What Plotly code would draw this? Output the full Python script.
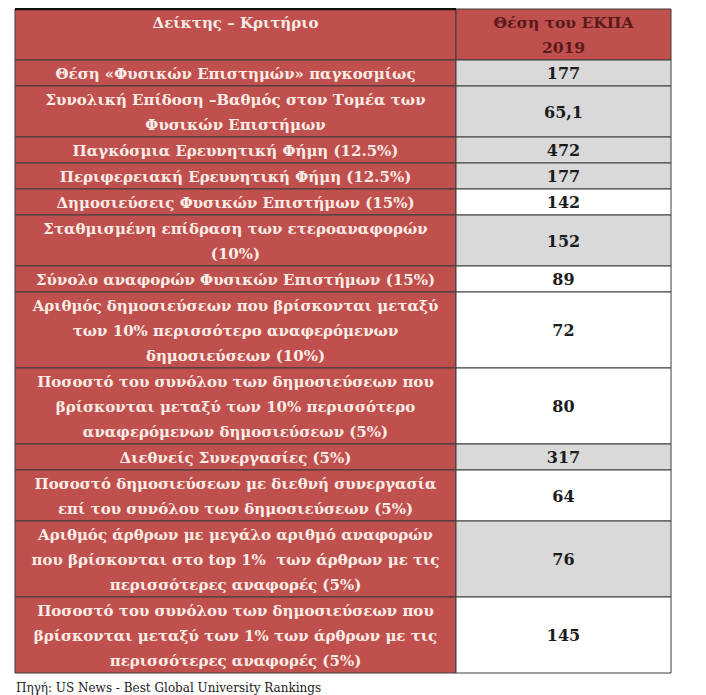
import plotly.graph_objects as go

# ---------------- data ----------------
header_col1 = ["Δείκτης – Κριτήριο"]
header_col2 = ["Θέση του ΕΚΠΑ", "2019"]

criteria = [
    ["Θέση «Φυσικών Επιστημών» παγκοσμίως"],
    ["Συνολική Επίδοση –Βαθμός στον Τομέα των", "Φυσικών Επιστήμων"],
    ["Παγκόσμια Ερευνητική Φήμη (12.5%)"],
    ["Περιφερειακή Ερευνητική Φήμη (12.5%)"],
    ["Δημοσιεύσεις Φυσικών Επιστήμων (15%)"],
    ["Σταθμισμένη επίδραση των ετεροαναφορών", "(10%)"],
    ["Σύνολο αναφορών Φυσικών Επιστήμων (15%)"],
    ["Αριθμός δημοσιεύσεων που βρίσκονται μεταξύ", "των 10% περισσότερο αναφερόμενων", "δημοσιεύσεων (10%)"],
    ["Ποσοστό του συνόλου των δημοσιεύσεων που", "βρίσκονται μεταξύ των 10% περισσότερο", "αναφερόμενων δημοσιεύσεων (5%)"],
    ["Διεθνείς Συνεργασίες (5%)"],
    ["Ποσοστό δημοσιεύσεων με διεθνή συνεργασία", "επί του συνόλου των δημοσιεύσεων (5%)"],
    ["Αριθμός άρθρων με μεγάλο αριθμό αναφορών", "που βρίσκονται στο top 1%  των άρθρων με τις", "περισσότερες αναφορές (5%)"],
    ["Ποσοστό του συνόλου των δημοσιεύσεων που", "βρίσκονται μεταξύ των 1% των άρθρων με τις", "περισσότερες αναφορές (5%)"],
]

positions = ["177", "65,1", "472", "177", "142", "152", "89", "72", "80", "317", "64", "76", "145"]

# shading of the value column (True = grey)
grey_rows = [True, True, True, True, False, True, False, False, False, True, False, True, False]

source_text = "Πηγή: US News - Best Global University Rankings"

# ---------------- style ----------------
W, H = 706, 695
OFF = 8                       # page (body) margin in front of the figure
X0, XM, X1 = 15, 456, 671     # table left, column divider, table right (window px)
TOP = 9
LINE = 25                     # line pitch
PAD = 1
SHIFT = 2                     # visual offset of text centre

RED = "#c0504d"
GREY = "#d9d9d9"
WHITE = "#ffffff"
BORDER = "#3c3c3c"
LIGHT_TXT = "#fdece6"
DARK_TXT = "#1c1c1c"
HEAD2_TXT = "#5a1a18"
FONT = "DejaVu Serif"

# ---------------- layout of rows (from line counts) ----------------
rows_lines = [max(len(header_col1), len(header_col2))] + [len(c) for c in criteria]
heights = [LINE * n + PAD for n in rows_lines]
tops = []
y = TOP
for h in heights:
    tops.append(y)
    y += h
centers = [t + h / 2 for t, h in zip(tops, heights)]

def line_ys(i, n):
    t, h = tops[i], heights[i]
    off = (h - LINE * n) / 2
    return [t + off + LINE * (k + 0.5) + SHIFT for k in range(n)]

fig = go.Figure()

# column 1 cells (header + criteria), all red
fig.add_trace(go.Bar(
    orientation="h", y=centers, x=[XM - X0] * len(centers), base=X0, width=heights,
    marker=dict(color=RED, line=dict(color=BORDER, width=1)),
    hoverinfo="skip", showlegend=False,
))
# column 2 cells
col2_fill = [RED] + [GREY if g else WHITE for g in grey_rows]
fig.add_trace(go.Bar(
    orientation="h", y=centers, x=[X1 - XM] * len(centers), base=XM, width=heights,
    marker=dict(color=col2_fill, line=dict(color=BORDER, width=1)),
    hoverinfo="skip", showlegend=False,
))

# text for column 1
tx, ty, tt = [], [], []
hy = line_ys(0, rows_lines[0])
for k, s in enumerate(header_col1):
    tx.append((X0 + XM) / 2); ty.append(hy[k]); tt.append(s)
for i, lines in enumerate(criteria, start=1):
    for s, yy in zip(lines, line_ys(i, len(lines))):
        tx.append((X0 + XM) / 2); ty.append(yy); tt.append(s)
fig.add_trace(go.Scatter(
    x=tx, y=ty, text=tt, mode="text", textposition="middle center",
    textfont=dict(family=FONT, size=15, color=LIGHT_TXT, weight="bold"),
    hoverinfo="skip", showlegend=False,
))

# header column 2
fig.add_trace(go.Scatter(
    x=[(XM + X1) / 2] * len(header_col2), y=hy, text=header_col2, mode="text",
    textposition="middle center",
    textfont=dict(family=FONT, size=15.5, color=HEAD2_TXT, weight="bold"),
    hoverinfo="skip", showlegend=False,
))

# values
fig.add_trace(go.Scatter(
    x=[(XM + X1) / 2] * len(positions), y=[c + SHIFT for c in centers[1:]], text=positions,
    mode="text", textposition="middle center",
    textfont=dict(family=FONT, size=16, color=DARK_TXT, weight="bold"),
    hoverinfo="skip", showlegend=False,
))

# heavier top rule over the first header cell
fig.add_shape(type="line", x0=X0, x1=XM, y0=TOP, y1=TOP, line=dict(color="#111111", width=2.5))

fig.add_annotation(
    text=source_text, x=14, y=(tops[-1] + heights[-1] + H) / 2 + 4,
    xanchor="left", yanchor="middle", showarrow=False,
    font=dict(family=FONT, size=12, color="#222222"),
)

# light frame of the picture (right edge)
fig.add_shape(type="line", x0=704.5, x1=704.5, y0=OFF, y1=H + OFF,
              line=dict(color="#dedede", width=1.5), layer="below")

fig.update_xaxes(range=[OFF, W + OFF], visible=False, fixedrange=True)
fig.update_yaxes(range=[H + OFF, OFF], visible=False, fixedrange=True)
fig.update_layout(
    width=W, height=H,
    margin=dict(l=0, r=0, t=0, b=0),
    paper_bgcolor="white", plot_bgcolor="white",
    barmode="overlay",
)

fig.write_html("out.html")
